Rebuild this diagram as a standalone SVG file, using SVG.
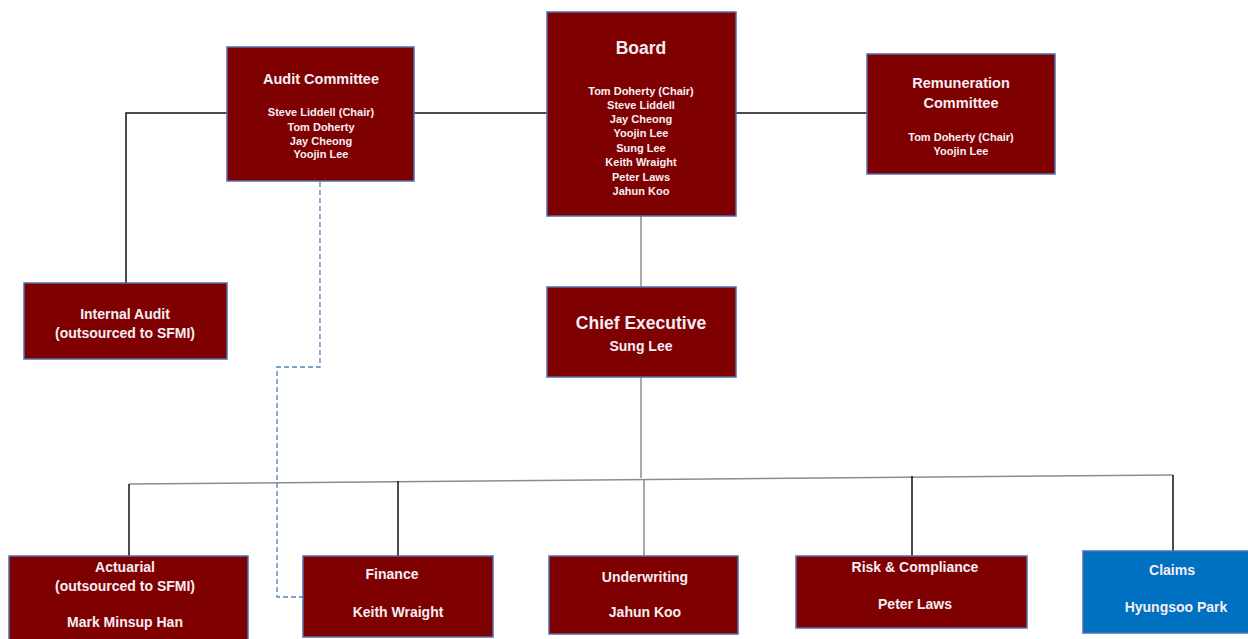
<svg xmlns="http://www.w3.org/2000/svg" width="1248" height="639" viewBox="0 0 1248 639">
  <style>
    .box { fill: #7f0000; stroke: #4f6fa8; stroke-width: 1.5; }
    .blue { fill: #0070c0; stroke: #4f6fa8; stroke-width: 1.5; }
    text { font-family: "Liberation Sans", Arial, sans-serif; font-weight: bold; fill: #f6eef4; text-anchor: middle; }
    .big { font-size: 17.5px; }
    .ttl { font-size: 14.5px; }
    .med { font-size: 14px; }
    .sm { font-size: 11px; }
    .ln { fill: none; stroke: #111; stroke-width: 1.5; }
    .gr { fill: none; stroke: #8c8c8c; stroke-width: 1.5; }
    .dash { fill: none; stroke: #4f81bd; stroke-width: 1.3; stroke-dasharray: 5 3; }
  </style>
  <rect width="1248" height="639" fill="#ffffff"/>

  <g id="connectors">
    <polyline class="ln" points="126,283 126,113 227,113"/>
    <line class="ln" x1="414" y1="113" x2="547" y2="113"/>
    <line class="ln" x1="736" y1="113" x2="867" y2="113"/>
    <line class="gr" x1="641" y1="216" x2="641" y2="287"/>
    <line class="gr" x1="641" y1="377" x2="641" y2="478"/>
    <line class="gr" x1="129" y1="484" x2="1173" y2="475"/>
    <line class="ln" x1="129" y1="484" x2="129" y2="556"/>
    <line class="ln" x1="398" y1="481" x2="398" y2="556"/>
    <line class="gr" x1="644" y1="479" x2="644" y2="556"/>
    <line class="ln" x1="912" y1="476" x2="912" y2="556"/>
    <line class="ln" x1="1173" y1="475" x2="1173" y2="551"/>
    <polyline class="dash" points="320,182 320,367 277,367 277,597 303,597"/>
  </g>

  <g id="audit-committee">
    <rect class="box" x="227" y="47" width="187" height="134"/>
    <text class="ttl" x="321" y="84">Audit Committee</text>
    <text class="sm" x="321" y="116">Steve Liddell (Chair)</text>
    <text class="sm" x="321" y="131">Tom Doherty</text>
    <text class="sm" x="321" y="145">Jay Cheong</text>
    <text class="sm" x="321" y="158">Yoojin Lee</text>
  </g>

  <g id="board">
    <rect class="box" x="547" y="12" width="189" height="204"/>
    <text class="big" x="641" y="54">Board</text>
    <text class="sm" x="641" y="95">Tom Doherty (Chair)</text>
    <text class="sm" x="641" y="109">Steve Liddell</text>
    <text class="sm" x="641" y="123">Jay Cheong</text>
    <text class="sm" x="641" y="137">Yoojin Lee</text>
    <text class="sm" x="641" y="152">Sung Lee</text>
    <text class="sm" x="641" y="166">Keith Wraight</text>
    <text class="sm" x="641" y="181">Peter Laws</text>
    <text class="sm" x="641" y="195">Jahun Koo</text>
  </g>

  <g id="remuneration-committee">
    <rect class="box" x="867" y="54" width="188" height="120"/>
    <text class="ttl" x="961" y="88">Remuneration</text>
    <text class="ttl" x="961" y="108">Committee</text>
    <text class="sm" x="961" y="141">Tom Doherty (Chair)</text>
    <text class="sm" x="961" y="155">Yoojin Lee</text>
  </g>

  <g id="internal-audit">
    <rect class="box" x="24" y="283" width="203" height="76"/>
    <text class="med" x="125" y="319">Internal Audit</text>
    <text class="med" x="125" y="338">(outsourced to SFMI)</text>
  </g>

  <g id="chief-executive">
    <rect class="box" x="547" y="287" width="189" height="90"/>
    <text class="big" x="641" y="329">Chief Executive</text>
    <text class="med" x="641" y="351">Sung Lee</text>
  </g>

  <g id="actuarial">
    <rect class="box" x="9" y="556" width="239" height="90"/>
    <text class="med" x="125" y="572">Actuarial</text>
    <text class="med" x="125" y="591">(outsourced to SFMI)</text>
    <text class="med" x="125" y="627">Mark Minsup Han</text>
  </g>

  <g id="finance">
    <rect class="box" x="303" y="556" width="190" height="81"/>
    <text class="med" x="392" y="579">Finance</text>
    <text class="med" x="398" y="617">Keith Wraight</text>
  </g>

  <g id="underwriting">
    <rect class="box" x="549" y="556" width="189" height="78"/>
    <text class="med" x="645" y="582">Underwriting</text>
    <text class="med" x="645" y="617">Jahun Koo</text>
  </g>

  <g id="risk-compliance">
    <rect class="box" x="796" y="556" width="231" height="72"/>
    <text class="med" x="915" y="572">Risk &amp; Compliance</text>
    <text class="med" x="915" y="609">Peter Laws</text>
  </g>

  <g id="claims">
    <rect class="blue" x="1083" y="551" width="170" height="82"/>
    <text class="med" x="1172" y="575">Claims</text>
    <text class="med" x="1176" y="612">Hyungsoo Park</text>
  </g>
</svg>
